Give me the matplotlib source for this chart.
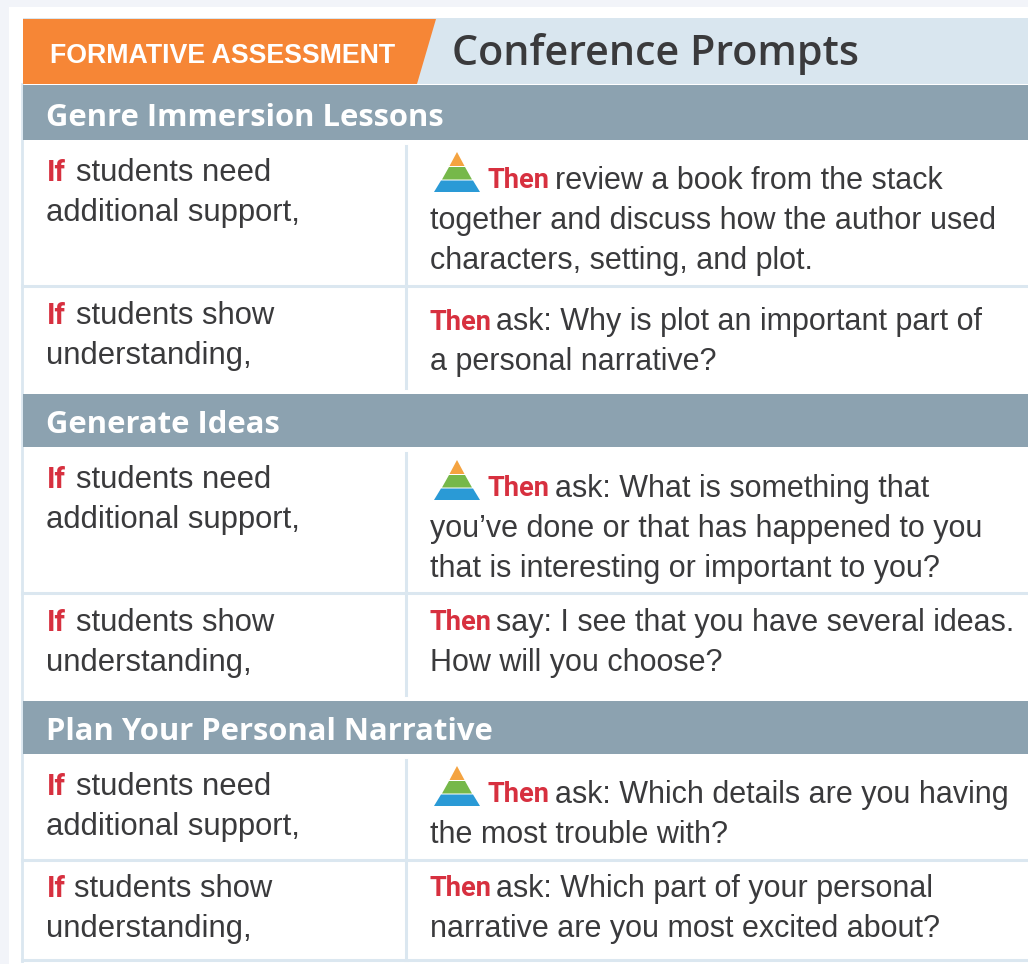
import matplotlib
matplotlib.use("Agg")
import matplotlib.pyplot as plt
from matplotlib.patches import Polygon, Rectangle

BADGE = "FORMATIVE ASSESSMENT"
TITLE = "Conference Prompts"
SECTIONS = ["Genre Immersion Lessons", "Generate Ideas", "Plan Your Personal Narrative"]
SECTION_TOPS = [85, 394, 701]
SECTION_HEIGHTS = [55, 53, 53]
COLUMN_X = 406

# (if lines, then lines, has pyramid, top y, bottom y, if y, then y, if-text x)
IF_NEED = ["students need", "additional support,"]
IF_SHOW = ["students show", "understanding,"]
ROWS = [
    (IF_NEED, ["review a book from the stack", "together and discuss how the author used", "characters, setting, and plot."], True, 141, 285, 173, 181, 76),
    (IF_SHOW, ["ask: Why is plot an important part of", "a personal narrative?"], False, 286, 388, 316, 322, 76),
    (IF_NEED, ["ask: What is something that", "you\u2019ve done or that has happened to you", "that is interesting or important to you?"], True, 448, 592, 480, 489, 76),
    (IF_SHOW, ["say: I see that you have several ideas.", "How will you choose?"], False, 593, 695, 623, 623, 76),
    (IF_NEED, ["ask: Which details are you having", "the most trouble with?"], True, 755, 859, 787, 795, 76),
    (IF_SHOW, ["ask: Which part of your personal", "narrative are you most excited about?"], False, 860, 960, 889, 889, 74),
]

C_TEXT = "#3a3a3c"
C_RED = "#d7303f"
C_RULE = "#dbe7f0"
C_HEAD = "#8ca2b0"
C_ORANGE = "#f68636"
SANS = "Liberation Sans"
BOLD = "Open Sans"
RED_FONT = "Roboto"
BODY_IF = 22.3
BODY_THEN = 22.0
LH = 40

fig = plt.figure(figsize=(10.28, 9.64), dpi=100, facecolor="#ffffff")
ax = fig.add_axes([0, 0, 1, 1])
ax.set_xlim(0, 1028)
ax.set_ylim(964, 0)
ax.axis("off")

ax.add_patch(Rectangle((0, 0), 1028, 964, fc="#f2f4f9", ec="none", zorder=0))
ax.add_patch(Rectangle((9, 7), 1019, 957, fc="#ffffff", ec="none", zorder=0))

# header band
ax.add_patch(Rectangle((23, 18), 1005, 66, fc="#d9e6ef", ec="none", zorder=1))
ax.add_patch(Polygon([(23, 19), (436, 19), (417, 84), (23, 84)], fc=C_ORANGE, ec="none", zorder=2))
ax.text(50, 56, BADGE, color="white", fontfamily=SANS, fontweight="bold", fontsize=19.3, va="center", zorder=3)
ax.text(452, 54, TITLE, color=C_TEXT, fontfamily=BOLD, fontweight="semibold", fontsize=29.7, va="center", zorder=3)

# outer frame
ax.plot([22, 22], [84, 961], color=C_RULE, lw=2, zorder=1)
ax.plot([22, 1028], [960, 960], color=C_RULE, lw=2.2, zorder=1)

for name, top, height in zip(SECTIONS, SECTION_TOPS, SECTION_HEIGHTS):
    ax.add_patch(Rectangle((23, top), 1005, height, fc=C_HEAD, ec="none", zorder=2))
    ax.text(46.5, top + height - 22, name, color="white", fontfamily=BOLD, fontweight="bold", fontsize=22.3, va="center", zorder=3)


def pyramid(x0, base):
    """Small three-band pyramid icon."""
    ax.add_patch(Polygon([(x0 + 23, base - 40), (x0 + 30.5, base - 26), (x0 + 15.5, base - 26)], fc="#f4a340", ec="none", zorder=3))
    ax.add_patch(Polygon([(x0 + 15, base - 25), (x0 + 31, base - 25), (x0 + 38, base - 12.5), (x0 + 8, base - 12.5)], fc="#76b84a", ec="none", zorder=3))
    ax.add_patch(Polygon([(x0 + 7, base - 11.5), (x0 + 39, base - 11.5), (x0 + 46, base), (x0, base)], fc="#2a9ad6", ec="none", zorder=3))


for if_lines, then_lines, has_icon, top, bottom, if_y, then_y, if_x in ROWS:
    ax.plot([COLUMN_X, COLUMN_X], [top + (5 if has_icon else 0), bottom], color=C_RULE, lw=2.2, zorder=1)
    if bottom not in (388, 695, 960):
        ax.plot([22, 1028], [bottom + 0.5, bottom + 0.5], color=C_RULE, lw=2.2, zorder=1)
    ax.text(47, if_y, "If", color=C_RED, fontfamily=RED_FONT, fontweight="bold", fontsize=21, va="center", zorder=3)
    for i, line in enumerate(if_lines):
        ax.text(if_x if i == 0 else 46.5, if_y + i * LH, line, color=C_TEXT, fontfamily=SANS, fontsize=BODY_IF, va="center", zorder=3)
    then_x = 487 if has_icon else 430
    if has_icon:
        pyramid(434, then_y + 11)
    ax.text(then_x, then_y, "Then", color=C_RED, fontfamily=RED_FONT, fontweight="bold", fontsize=19.6, va="center", zorder=3)
    for i, line in enumerate(then_lines):
        x = (then_x + (68 if has_icon else 66)) if i == 0 else 430
        ax.text(x, then_y + i * LH, line, color=C_TEXT, fontfamily=SANS, fontsize=BODY_THEN, va="center", zorder=3)

fig.savefig("out.png", dpi=100)
